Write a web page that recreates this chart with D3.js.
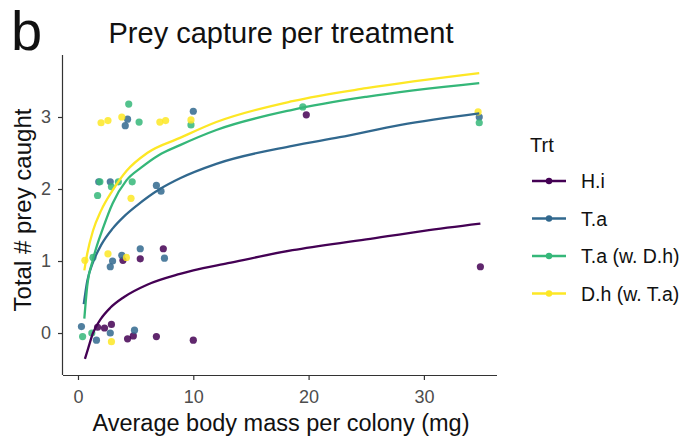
<!DOCTYPE html>
<html><head><meta charset="utf-8">
<script src="https://cdn.jsdelivr.net/npm/d3@7"></script>
<style>body{margin:0;background:#fff}text{font-family:"Liberation Sans",Arial,sans-serif}</style>
</head><body><svg id="c" width="684" height="439"></svg>
<script>
const groups = ["H.i","T.a","T.a (w. D.h)","D.h (w. T.a)"];
const colors = ["#440154","#31688E","#35B779","#FDE725"];
const xTicks = [0,10,20,30];
const yTicks = [0,1,2,3];

// observed points (x = body mass, y = prey caught)
const hiX = [1.7,2.3,2.9,4.3,4.8,6.8,10.0,3.9,5.4,7.4,19.8,34.9];
const hiY = [0.08,0.07,0.12,-0.08,-0.04,-0.05,-0.1,1.01,1.03,1.17,3.03,0.92];
const taX = [0.3,1.6,2.8,4.9,3.8,5.4,7.5,2.8,3.0,1.8,2.8,6.8,7.2,4.1,4.3,10.0,34.8];
const taY = [0.09,-0.1,0.0,0.04,1.08,1.17,1.04,0.92,1.0,2.1,2.1,2.05,1.97,2.88,2.97,3.08,3.0];
const twX = [0.4,1.2,1.3,1.9,2.9,1.7,3.5,4.7,4.4,5.3,9.8,19.5,34.8];
const twY = [-0.05,0.0,1.05,2.1,2.03,1.91,2.1,2.1,3.18,2.93,2.89,3.14,2.92];
const dhX = [2.0,2.6,3.8,7.1,7.6,9.8,34.7,4.6,0.6,2.6,4.2,2.9];
const dhY = [2.92,2.95,3.0,2.93,2.95,2.96,3.07,1.87,1.01,1.1,1.05,-0.12];

// fitted curves
const hiLX = [0.6,0.87,1.3,2.0,2.8,4.0,6.0,8.85,10,13,18.6,25,30,34.9];
const hiLY = [-0.36,-0.22,0.0,0.2,0.35,0.5,0.67,0.82,0.87,0.97,1.15,1.3,1.42,1.52];
const taLX = [0.5,0.8,1.3,2.0,3.0,4.0,5.1,7.1,8.85,12,18.6,22.7,28,34.8];
const taLY = [0.4,0.72,0.98,1.22,1.45,1.62,1.77,2.0,2.15,2.35,2.6,2.72,2.89,3.05];
const twLX = [0.55,0.8,1.3,2.2,3.0,4.2,5.5,7.0,8.85,12,18.6,25,34.8];
const twLY = [0.2,0.65,1.02,1.47,1.8,2.12,2.3,2.47,2.61,2.82,3.1,3.28,3.47];
const dhLX = [0.55,0.8,1.3,2.0,3.0,4.2,6.0,8.85,12,18.6,25,34.8];
const dhLY = [0.87,1.1,1.42,1.7,1.98,2.25,2.5,2.71,2.93,3.22,3.4,3.61];

const ptsX=[hiX,taX,twX,dhX], ptsY=[hiY,taY,twY,dhY];
const lnX=[hiLX,taLX,twLX,dhLX], lnY=[hiLY,taLY,twLY,dhLY];

const svg = d3.select("#c");
const L=63,R=497,T=55,B=375;
const x = d3.scaleLinear().domain([-1.3,36.34]).range([L,R]);
const y = d3.scaleLinear().domain([-0.583,3.861]).range([B,T]);

const gx = svg.append("g").attr("transform",`translate(0,${B})`)
  .call(d3.axisBottom(x).tickValues(xTicks).tickFormat(d3.format("d")).tickSize(5).tickPadding(10));
const gy = svg.append("g").attr("transform",`translate(${L},0)`)
  .call(d3.axisLeft(y).tickValues(yTicks).tickFormat(d3.format("d")).tickSize(5).tickPadding(7));
[gx,gy].forEach(g=>{
  g.select(".domain").attr("stroke","#333").attr("stroke-width",1.2);
  g.selectAll(".tick line").attr("stroke","#333").attr("stroke-width",1.2);
  g.selectAll(".tick text").attr("fill","#4D4D4D").attr("font-size",18)
   .attr("font-family","'Liberation Sans',Arial,sans-serif");
});
gx.select(".domain").attr("d",`M${L},0.5H${R}`);
gy.select(".domain").attr("d",`M-0.5,${T}V${B}`);

const line = d3.line().x(d=>x(d[0])).y(d=>y(d[1])).curve(d3.curveMonotoneX);
groups.forEach((g,i)=>{
  const pts = ptsX[i].map((v,j)=>[v,ptsY[i][j]]);
  svg.append("g").selectAll("circle").data(pts).join("circle")
    .attr("cx",d=>x(d[0])).attr("cy",d=>y(d[1])).attr("r",3.6)
    .attr("fill",colors[i]).attr("opacity",0.85);
});
groups.forEach((g,i)=>{
  const data = lnX[i].map((v,j)=>[v,lnY[i][j]]);
  svg.append("path").datum(data).attr("d",line).attr("fill","none")
    .attr("stroke",colors[i]).attr("stroke-width",2.3);
});

svg.append("text").attr("x",11).attr("y",50).attr("font-size",56).attr("fill","#111").text("b");
svg.append("text").attr("x",281).attr("y",43).attr("text-anchor","middle").attr("font-size",29).attr("fill","#111").text("Prey capture per treatment");
svg.append("text").attr("x",281).attr("y",431).attr("text-anchor","middle").attr("font-size",23.5).attr("fill","#111").text("Average body mass per colony (mg)");
svg.append("text").attr("transform","translate(31,210) rotate(-90)").attr("text-anchor","middle").attr("font-size",24).attr("fill","#111").text("Total # prey caught");

const lg = svg.append("g");
lg.append("text").attr("x",530).attr("y",152).attr("font-size",20).attr("fill","#111").text("Trt");
groups.forEach((g,i)=>{
  const yy = 181 + i*37.5;
  lg.append("line").attr("x1",532).attr("x2",566).attr("y1",yy).attr("y2",yy)
    .attr("stroke",colors[i]).attr("stroke-width",2.4);
  lg.append("circle").attr("cx",549).attr("cy",yy).attr("r",3.2).attr("fill",colors[i]);
  lg.append("text").attr("x",581).attr("y",yy+7).attr("font-size",19.5).attr("fill","#111").text(g);
});
</script></body></html>
